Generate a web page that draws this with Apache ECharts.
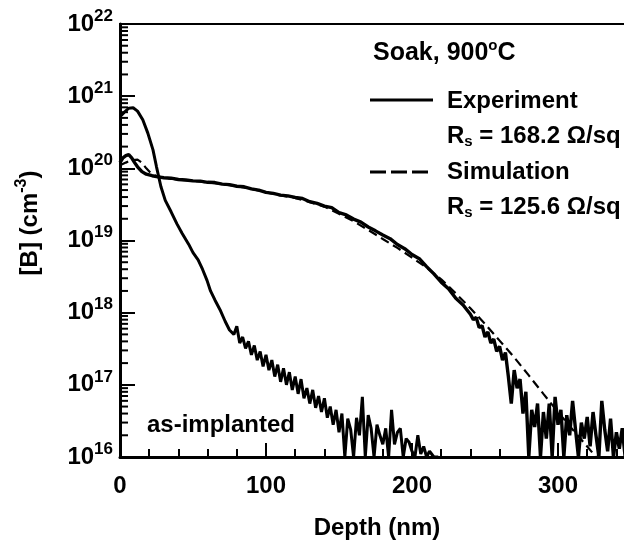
<!DOCTYPE html>
<html>
<head>
<meta charset="utf-8">
<script src="https://cdn.jsdelivr.net/npm/echarts@6/dist/echarts.min.js"></script>
<style>html,body{margin:0;padding:0;background:#fff}#c{width:624px;height:541px}</style>
</head>
<body>
<div id="c"></div>
<script>
// ---- data (depth in nm, [B] in cm^-3) ----
const depthImplant = [0,3,6,9,12,15.6,19,22.6,25,28,31,35,39,42.5,47,50,53.5,56.5,59.6,62,65,68.5,72,75,
  78,80,82,84,86,88,90,92,94,96,98,100,102,104,106,108,110,112,114,116,118,120,122,124,126,128,130,132,134,136,138,140,
  142,144,146,148,150,152,154,156,158,160,162,164,166,168,170,172,174,176,178,180,182,184,186,188,190,192,194,196,198,200,
  202,204,206,208,210,212,215,218];
const bImplant = [5.2e20,6.0e20,6.8e20,6.9e20,6.2e20,4.7e20,3.1e20,1.8e20,1.05e20,5.6e19,3.6e19,2.5e19,1.7e19,1.26e19,8.9e18,6.8e18,5.4e18,4.0e18,2.8e18,2.0e18,1.5e18,1.1e18,7.6e17,5.75e17,
  5.0e17,6.5e17,3.8e17,4.6e17,3.2e17,4.0e17,2.6e17,3.5e17,2.2e17,2.9e17,1.8e17,2.6e17,1.6e17,2.2e17,1.3e17,1.9e17,1.1e17,1.7e17,1.0e17,1.5e17,8.5e16,1.3e17,7.5e16,1.2e17,6.5e16,9.0e16,5.5e16,8.5e16,4.8e16,7.0e16,4.2e16,6.5e16,
  3.5e16,5.0e16,2.8e16,4.5e16,2.2e16,4.0e16,1.0e16,3.4e16,2.4e16,1.0e16,3.5e16,2.0e16,6.8e16,1.0e16,3.8e16,2.5e16,1.0e16,2.8e16,2.0e16,1.5e16,2.5e16,1.0e16,4.5e16,1.5e16,2.2e16,2.5e16,1.0e16,1.8e16,1.6e16,1.2e16,
  1.0e16,2.0e16,1.1e16,1.4e16,1.0e16,1.2e16,1.0e16,1.0e16];

const depthExp = [0,2,4,6,8,10,12,15,18,22,26,30,35,40,45,50,55,60,65,70,75,80,85,90,95,100,105,110,115,120,125,130,135,140,145,150,155,160,165,170,175,180,185,190,195,200,205,210,215,220,225,230,235,
  240,242,244,246,248,250,252,254,256,258,260,262,264,266,268,270,272,274,276,278,280,282,284,286,288,290,292,294,296,298,300,302,304,306,308,310,312,314,316,318,320,322,324,326,328,330,332,334,336,338,340,342,344,346,350];
const bExp = [1.2e20,1.4e20,1.5e20,1.55e20,1.4e20,1.2e20,1.05e20,9.0e19,8.3e19,7.9e19,7.6e19,7.41e19,7.3e19,7.0e19,6.9e19,6.7e19,6.65e19,6.4e19,6.35e19,6.05e19,5.95e19,5.65e19,5.55e19,5.2e19,5.0e19,4.65e19,4.5e19,4.25e19,4.15e19,3.95e19,3.82e19,3.45e19,3.27e19,3.0e19,2.85e19,2.43e19,2.26e19,1.98e19,1.8e19,1.54e19,1.36e19,1.19e19,1.06e19,8.8e18,7.7e18,6.4e18,5.6e18,4.35e18,3.45e18,2.65e18,2.15e18,1.58e18,1.28e18,
  9.5e17,8.0e17,8.6e17,6.2e17,6.6e17,4.6e17,5.4e17,3.8e17,4.3e17,2.9e17,3.4e17,2.2e17,2.8e17,1.3e17,5.5e16,1.6e17,9.0e16,1.2e17,4.0e16,8.0e16,1.0e16,4.5e16,2.6e16,5.5e16,1.0e16,4.2e16,1.8e16,5.5e16,1.0e16,6.8e16,2.8e16,4.5e16,1.0e16,3.8e16,2.0e16,6.0e16,2.4e16,1.0e16,3.0e16,1.8e16,3.6e16,1.4e16,4.2e16,2.0e16,1.0e16,6.0e16,2.4e16,1.2e16,3.4e16,1.0e16,2.2e16,1.3e16,2.5e16,1.0e16,1.5e16];

const depthSim = [0,4,8,12,15,18,21,25,30,40,50,60,70,80,90,100,110,120,130,140,150,160,170,180,190,200,210,220,230,240,250,260,270,280,290,300,310,320,326];
const bSim = [1.1e20,1.2e20,1.3e20,1.32e20,1.2e20,1.0e20,8.6e19,7.8e19,7.4e19,7.0e19,6.7e19,6.4e19,6.05e19,5.65e19,5.2e19,4.65e19,4.2e19,3.9e19,3.4e19,2.95e19,2.35e19,1.85e19,1.4e19,1.05e19,7.9e18,5.8e18,4.2e18,2.9e18,1.85e18,1.15e18,7.0e17,4.1e17,2.4e17,1.35e17,7.5e16,4.2e16,2.4e16,1.4e16,1.0e16];

const yDecades = [16,17,18,19,20,21];
const minorMultipliers = [2,3,4,5,6,7,8,9];

const FONT = "'Liberation Sans', Arial, sans-serif";
const zip = (xs, ys) => xs.map((x, i) => [x, ys[i]]);
const minorTickData = [];
yDecades.forEach(d => minorMultipliers.forEach(m => minorTickData.push([0, m * Math.pow(10, d)])));

const chart = echarts.init(document.getElementById('c'), null, {renderer: 'canvas'});
const lineBase = {type: 'line', showSymbol: false, symbol: 'none', clip: true, animation: false};

chart.setOption({
  animation: false,
  backgroundColor: '#fff',
  grid: {left: 120, top: 24, bottom: 84, width: 584, containLabel: false, outerBoundsMode: 'none',
    show: true, borderColor: '#000', borderWidth: 2, backgroundColor: 'transparent'},
  xAxis: {
    type: 'value', min: 0, max: 400, interval: 100,
    axisLine: {show: true, onZero: false, lineStyle: {color: '#000', width: 3}},
    axisTick: {show: true, inside: true, length: 14, lineStyle: {color: '#000', width: 2}},
    minorTick: {show: true, splitNumber: 5, length: 8, lineStyle: {color: '#000', width: 2}},
    splitLine: {show: false},
    axisLabel: {color: '#000', fontFamily: FONT, fontWeight: 'bold', fontSize: 24, margin: 17, showMaxLabel: false}
  },
  yAxis: {
    type: 'log', logBase: 10, min: 1e16, max: 1e22,
    axisLine: {show: true, onZero: false, lineStyle: {color: '#000', width: 3}},
    axisTick: {show: true, inside: true, length: 15, lineStyle: {color: '#000', width: 2}},
    minorTick: {show: false},
    splitLine: {show: false},
    axisLabel: {
      margin: 7,
      formatter: v => '{b|10}{s|' + Math.round(Math.log10(v)) + '}',
      rich: {
        b: {fontFamily: FONT, fontWeight: 'bold', fontSize: 24, color: '#000'},
        s: {fontFamily: FONT, fontWeight: 'bold', fontSize: 17, color: '#000', padding: [0, 0, 16, 0]}
      }
    }
  },
  series: [
    Object.assign({}, lineBase, {name: 'as-implanted', data: zip(depthImplant, bImplant), lineStyle: {color: '#000', width: 3}}),
    Object.assign({}, lineBase, {name: 'Experiment', data: zip(depthExp, bExp), lineStyle: {color: '#000', width: 3.4}}),
    Object.assign({}, lineBase, {name: 'Simulation', data: zip(depthSim, bSim), lineStyle: {color: '#000', width: 2.2, type: [9, 5]}}),
    {
      type: 'custom', silent: true, animation: false, clip: false,
      data: minorTickData,
      encode: {x: 0, y: 1},
      renderItem: (params, api) => {
        const p = api.coord([api.value(0), api.value(1)]);
        return {type: 'line', shape: {x1: p[0], y1: p[1], x2: p[0] + 8, y2: p[1]}, style: {stroke: '#000', lineWidth: 2}};
      }
    }
  ],
  graphic: [
    {type: 'text', x: 373, y: 53, style: {text: 'Soak, 900{s|o}C', fontFamily: FONT, fontWeight: 'bold', fontSize: 25, fill: '#000', align: 'left', verticalAlign: 'middle',
      rich: {s: {fontFamily: FONT, fontWeight: 'bold', fontSize: 15, fill: '#000', padding: [0, 0, 14, 0]}}}},
    {type: 'line', shape: {x1: 370, y1: 100, x2: 433, y2: 100}, style: {stroke: '#000', lineWidth: 3}},
    {type: 'text', x: 447, y: 101, style: {text: 'Experiment', fontFamily: FONT, fontWeight: 'bold', fontSize: 24, fill: '#000', align: 'left', verticalAlign: 'middle'}},
    {type: 'text', x: 447, y: 136, style: {text: 'R{sub|s} = 168.2 Ω/sq', fontFamily: FONT, fontWeight: 'bold', fontSize: 24, fill: '#000', align: 'left', verticalAlign: 'middle',
      rich: {sub: {fontFamily: FONT, fontWeight: 'bold', fontSize: 15, fill: '#000', padding: [12, 0, 0, 0]}}}},
    {type: 'line', shape: {x1: 370, y1: 172, x2: 429, y2: 172}, style: {stroke: '#000', lineWidth: 3, lineDash: [16, 5]}},
    {type: 'text', x: 447, y: 172, style: {text: 'Simulation', fontFamily: FONT, fontWeight: 'bold', fontSize: 24, fill: '#000', align: 'left', verticalAlign: 'middle'}},
    {type: 'text', x: 447, y: 207, style: {text: 'R{sub|s} = 125.6 Ω/sq', fontFamily: FONT, fontWeight: 'bold', fontSize: 24, fill: '#000', align: 'left', verticalAlign: 'middle',
      rich: {sub: {fontFamily: FONT, fontWeight: 'bold', fontSize: 15, fill: '#000', padding: [12, 0, 0, 0]}}}},
    {type: 'text', x: 147, y: 425, style: {text: 'as-implanted', fontFamily: FONT, fontWeight: 'bold', fontSize: 24, fill: '#000', align: 'left', verticalAlign: 'middle'}},
    {type: 'text', x: 377, y: 528, style: {text: 'Depth (nm)', fontFamily: FONT, fontWeight: 'bold', fontSize: 24, fill: '#000', align: 'center', verticalAlign: 'middle'}},
    {type: 'text', x: 30, y: 223, rotation: Math.PI / 2, style: {text: '[B] (cm{s|-3})', fontFamily: FONT, fontWeight: 'bold', fontSize: 24, fill: '#000', align: 'center', verticalAlign: 'middle',
      rich: {s: {fontFamily: FONT, fontWeight: 'bold', fontSize: 16, fill: '#000', padding: [0, 0, 16, 0]}}}}
  ]
});
</script>
</body>
</html>
